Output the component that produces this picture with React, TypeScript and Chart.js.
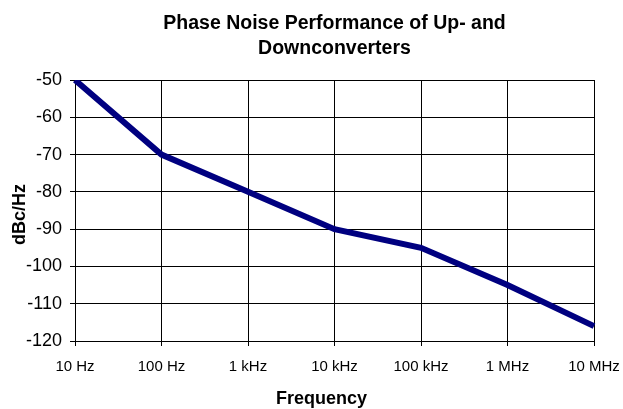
import React, { useEffect, useRef } from "react";
import { Chart, registerables } from "chart.js";

Chart.register(...registerables);

const titleLines = ["Phase Noise Performance of Up- and", "Downconverters"];
const categories = ["10 Hz", "100 Hz", "1 kHz", "10 kHz", "100 kHz", "1 MHz", "10 MHz"];
const phaseNoise = [-50, -70, -80, -90, -95, -105, -116];
const yTitle = "dBc/Hz";
const xTitle = "Frequency";

const FONT = "'Liberation Sans', Arial, Helvetica, sans-serif";

const textPlugin = {
  id: "chartTexts",
  afterDraw(chart: any) {
    const { ctx, chartArea } = chart;
    const cx = (chartArea.left + chartArea.right) / 2;
    ctx.save();
    ctx.fillStyle = "#000";
    ctx.font = `bold 19.5px ${FONT}`;
    ctx.textAlign = "center";
    ctx.textBaseline = "alphabetic";
    ctx.fillText(titleLines[0], cx, 28.5);
    ctx.fillText(titleLines[1], cx, 53.5);

    ctx.font = `bold 18px ${FONT}`;
    ctx.fillText(xTitle, cx - 13, 404);

    ctx.translate(25, (chartArea.top + chartArea.bottom) / 2 + 4);
    ctx.rotate(-Math.PI / 2);
    ctx.fillText(yTitle, 0, 0);
    ctx.restore();
  },
};

export default function App() {
  const ref = useRef<HTMLCanvasElement | null>(null);

  useEffect(() => {
    document.body.style.margin = "0";
    const canvas = ref.current;
    if (!canvas) return;
    const chart = new Chart(canvas, {
      type: "line",
      data: {
        labels: categories,
        datasets: [
          {
            data: phaseNoise,
            borderColor: "#000080",
            backgroundColor: "#000080",
            borderWidth: 6,
            pointRadius: 0,
            pointHoverRadius: 0,
            tension: 0,
            fill: false,
          },
        ],
      },
      plugins: [textPlugin],
      options: {
        responsive: false,
        animation: false,
        devicePixelRatio: 1,
        layout: { padding: { left: 0, right: 29, top: 80, bottom: 0 } },
        plugins: {
          legend: { display: false },
          tooltip: { enabled: false },
          title: { display: false },
        },
        scales: {
          x: {
            type: "category",
            offset: false,
            grid: {
              display: true,
              color: "#000",
              lineWidth: 1,
              drawTicks: true,
              tickLength: 5,
              tickColor: "#000",
            },
            border: { display: true, color: "#000", width: 1 },
            ticks: {
              color: "#000",
              font: { family: FONT, size: 15 },
              padding: 12,
              autoSkip: false,
              maxRotation: 0,
              minRotation: 0,
            },
            title: { display: false },
            afterFit: (scale: any) => {
              scale.height = 68;
              scale.paddingLeft = 0;
              scale.paddingRight = 0;
            },
          },
          y: {
            min: -120,
            max: -50,
            grid: {
              display: true,
              color: "#000",
              lineWidth: 1,
              drawTicks: true,
              tickLength: 5,
              tickColor: "#000",
            },
            border: { display: true, color: "#000", width: 1 },
            ticks: {
              stepSize: 10,
              color: "#000",
              font: { family: FONT, size: 18 },
              padding: 8,
            },
            title: { display: false },
            afterFit: (scale: any) => {
              scale.width = 75;
              scale.paddingTop = 0;
              scale.paddingBottom = 0;
            },
          },
        },
      },
    });
    return () => chart.destroy();
  }, []);

  return (
    <div style={{ width: 623, height: 409 }}>
      <canvas ref={ref} width={623} height={409} style={{ display: "block", width: 623, height: 409 }} />
    </div>
  );
}
